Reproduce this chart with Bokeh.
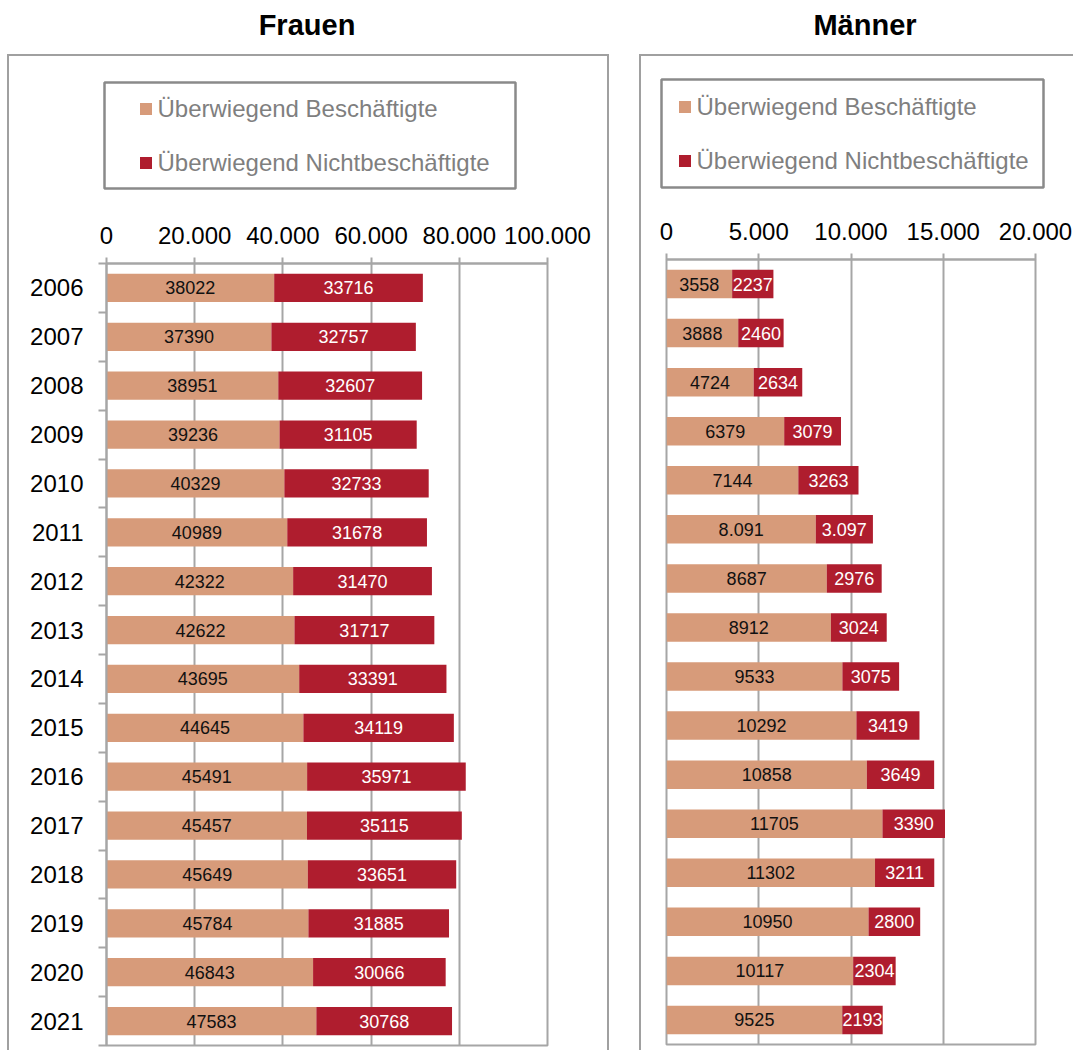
import numpy as np
from bokeh.plotting import figure
from bokeh.models import (Range1d, FixedTicker, Legend, LegendItem,
                          BoxAnnotation, ColumnDataSource, Div)
from bokeh.layouts import row, column
from bokeh.embed import file_html
from bokeh.resources import INLINE
from bokeh.core.properties import value

# ---------------- data ----------------
years = ["2006", "2007", "2008", "2009", "2010", "2011", "2012", "2013",
         "2014", "2015", "2016", "2017", "2018", "2019", "2020", "2021"]
series_names = ["Überwiegend Beschäftigte", "Überwiegend Nichtbeschäftigte"]

frauen_besch = [38022, 37390, 38951, 39236, 40329, 40989, 42322, 42622,
                43695, 44645, 45491, 45457, 45649, 45784, 46843, 47583]
frauen_nicht = [33716, 32757, 32607, 31105, 32733, 31678, 31470, 31717,
                33391, 34119, 35971, 35115, 33651, 31885, 30066, 30768]

maenner_besch = [3558, 3888, 4724, 6379, 7144, 8091, 8687, 8912,
                 9533, 10292, 10858, 11705, 11302, 10950, 10117, 9525]
maenner_nicht = [2237, 2460, 2634, 3079, 3263, 3097, 2976, 3024,
                 3075, 3419, 3649, 3390, 3211, 2800, 2304, 2193]

frauen_besch_labels = [str(v) for v in frauen_besch]
frauen_nicht_labels = [str(v) for v in frauen_nicht]
maenner_besch_labels = ["3558", "3888", "4724", "6379", "7144", "8.091", "8687", "8912",
                        "9533", "10292", "10858", "11705", "11302", "10950", "10117", "9525"]
maenner_nicht_labels = ["2237", "2460", "2634", "3079", "3263", "3.097", "2976", "3024",
                        "3075", "3419", "3649", "3390", "3211", "2800", "2304", "2193"]

frauen_ticks = [0, 20000, 40000, 60000, 80000, 100000]
frauen_tick_labels = ["0", "20.000", "40.000", "60.000", "80.000", "100.000"]
maenner_ticks = [0, 5000, 10000, 15000, 20000]
maenner_tick_labels = ["0", "5.000", "10.000", "15.000", "20.000"]

# ---------------- style ----------------
FONT = "Liberation Sans"
C_BESCH = "#D79B7A"
C_NICHT = "#AF1D2E"
GRID = "#A6A6A6"
FRAME = "#A0A0A0"
LEGBOX = "#8A8A8A"
HEADER_H = 144
BARS_H = 850


def no_align(p):
    if "frame_align" in p.properties():
        p.frame_align = False


def make_source(besch, nicht, b_labels, n_labels):
    idx = np.arange(len(years))
    b = np.array(besch, dtype=float)
    nn = np.array(nicht, dtype=float)
    return ColumnDataSource(dict(
        y=idx, b=b, total=b + nn, bmid=b / 2.0, nmid=b + nn / 2.0,
        blab=b_labels, nlab=n_labels))


def make_bars(src, ticks, tick_labels, width, min_left, min_right,
              min_top, min_bottom, show_years):
    n = len(years)
    idx = np.arange(n)
    p = figure(width=width, height=BARS_H,
               x_range=Range1d(ticks[0], ticks[-1]),
               y_range=Range1d(n - 0.5, -0.5),
               x_axis_location="above",
               y_axis_location="left" if show_years else None,
               toolbar_location=None, output_backend="svg",
               min_border_left=min_left, min_border_right=min_right,
               min_border_top=min_top, min_border_bottom=min_bottom)
    no_align(p)
    p.background_fill_color = "white"
    p.border_fill_color = "white"
    p.outline_line_color = GRID
    p.outline_line_width = 2

    p.hbar(y="y", left=0, right="b", height=0.58, source=src,
           fill_color=C_BESCH, line_color=None)
    p.hbar(y="y", left="b", right="total", height=0.58, source=src,
           fill_color=C_NICHT, line_color=None)

    p.text(x="bmid", y="y", text="blab", source=src, text_align="center",
           text_baseline="middle", text_font=value(FONT),
           text_font_size="18px", text_color="#111111")
    p.text(x="nmid", y="y", text="nlab", source=src, text_align="center",
           text_baseline="middle", text_font=value(FONT),
           text_font_size="18px", text_color="white")

    xa = p.xaxis[0]
    xa.ticker = FixedTicker(ticks=ticks, minor_ticks=[])
    xa.major_label_overrides = {t: l for t, l in zip(ticks, tick_labels)}
    xa.axis_line_color = GRID
    xa.axis_line_width = 2
    xa.major_tick_line_color = GRID
    xa.major_tick_line_width = 2
    xa.major_tick_out = 6
    xa.major_tick_in = 0
    xa.minor_tick_line_color = None
    xa.major_label_standoff = 14
    xa.major_label_text_font = FONT
    xa.major_label_text_font_size = "24px"
    xa.major_label_text_color = "black"

    p.xgrid.ticker = FixedTicker(ticks=ticks)
    p.xgrid.grid_line_color = GRID
    p.xgrid.grid_line_width = 2
    p.ygrid.grid_line_color = None

    if show_years:
        ya = p.yaxis[0]
        ya.ticker = FixedTicker(ticks=list(idx),
                                minor_ticks=[i - 0.5 for i in range(n + 1)])
        ya.major_label_overrides = {int(i): y for i, y in zip(idx, years)}
        ya.axis_line_color = GRID
        ya.axis_line_width = 2
        ya.major_tick_line_color = None
        ya.major_tick_out = 0
        ya.major_tick_in = 0
        ya.minor_tick_line_color = GRID
        ya.minor_tick_line_width = 2
        ya.minor_tick_out = 8
        ya.minor_tick_in = 0
        ya.major_label_standoff = 15
        ya.major_label_text_font = FONT
        ya.major_label_text_font_size = "24px"
        ya.major_label_text_color = "black"
    return p


def make_header(src, width, legend_box, legend_loc):
    # legend area of the chart; the proxy bars lie outside the visible ranges
    h = figure(width=width, height=HEADER_H,
               x_range=Range1d(-3, -2), y_range=Range1d(-3, -2),
               x_axis_location=None, y_axis_location=None,
               toolbar_location=None, output_backend="svg",
               min_border=0, min_border_left=0, min_border_right=0,
               min_border_top=0, min_border_bottom=0)
    no_align(h)
    h.outline_line_color = None
    h.xgrid.grid_line_color = None
    h.ygrid.grid_line_color = None
    h.background_fill_color = "white"
    h.border_fill_color = "white"
    r1 = h.hbar(y="y", left=0, right="b", height=0.58, source=src,
                fill_color=C_BESCH, line_color=None)
    r2 = h.hbar(y="y", left="b", right="total", height=0.58, source=src,
                fill_color=C_NICHT, line_color=None)
    ll, lr, lt, lb = legend_box
    h.add_layout(BoxAnnotation(left=ll, right=lr, top=lt, bottom=lb,
                               left_units="screen", right_units="screen",
                               top_units="screen", bottom_units="screen",
                               fill_alpha=0, fill_color=None,
                               line_color=LEGBOX, line_alpha=1.0,
                               line_width=2.5))
    legend = Legend(items=[LegendItem(label=series_names[0], renderers=[r1]),
                           LegendItem(label=series_names[1], renderers=[r2])],
                    location=legend_loc, orientation="vertical",
                    border_line_color=None, background_fill_alpha=0,
                    padding=0, margin=0, spacing=26, glyph_width=15,
                    glyph_height=15, label_height=28, label_standoff=5,
                    label_text_font=FONT, label_text_font_size="24px",
                    label_text_color="#7F7F7F")
    h.add_layout(legend, "center")
    return h


def div_box(w, hgt, color=None):
    styles = {"background-color": color} if color else {}
    return Div(text="", width=w, height=hgt, margin=(0, 0, 0, 0), styles=styles)


def title_div(text, w, left_margin):
    return Div(text=text, width=w, height=54, margin=(0, 0, 0, left_margin),
               styles={"font-family": FONT, "font-size": "29px",
                       "font-weight": "bold", "text-align": "center",
                       "line-height": "50px", "color": "black"})


srcF = make_source(frauen_besch, frauen_nicht, frauen_besch_labels, frauen_nicht_labels)
srcM = make_source(maenner_besch, maenner_nicht, maenner_besch_labels, maenner_nicht_labels)

# Frauen: content spans page x 9..607
headF = make_header(srcF, 598, legend_box=(95, 506, 118, 12), legend_loc=(128.5, 23.5))
barsF = make_bars(srcF, frauen_ticks, frauen_tick_labels, width=598,
                  min_left=97, min_right=60, min_top=63, min_bottom=5,
                  show_years=True)
# Männer: content spans page x 641..1073
headM = make_header(srcM, 432, legend_box=(20, 402, 121, 13), legend_loc=(35.5, 25.5))
barsM = make_bars(srcM, maenner_ticks, maenner_tick_labels, width=432,
                  min_left=25, min_right=38, min_top=59, min_bottom=6,
                  show_years=False)

BODY_H = 2 + HEADER_H + BARS_H
colF = column(div_box(598, 2, FRAME), headF, barsF, spacing=0)
colM = column(div_box(432, 2, FRAME), headM, barsM, spacing=0)

titles = row(title_div("Frauen", 614, 0), title_div("Männer", 416, 43), spacing=0)
body = row(div_box(7, BODY_H), div_box(2, BODY_H, FRAME), colF,
           div_box(2, BODY_H, FRAME), div_box(30, BODY_H),
           div_box(2, BODY_H, FRAME), colM, spacing=0)
page = column(titles, body, spacing=0)

open("out.html", "w").write(file_html(page, INLINE))
